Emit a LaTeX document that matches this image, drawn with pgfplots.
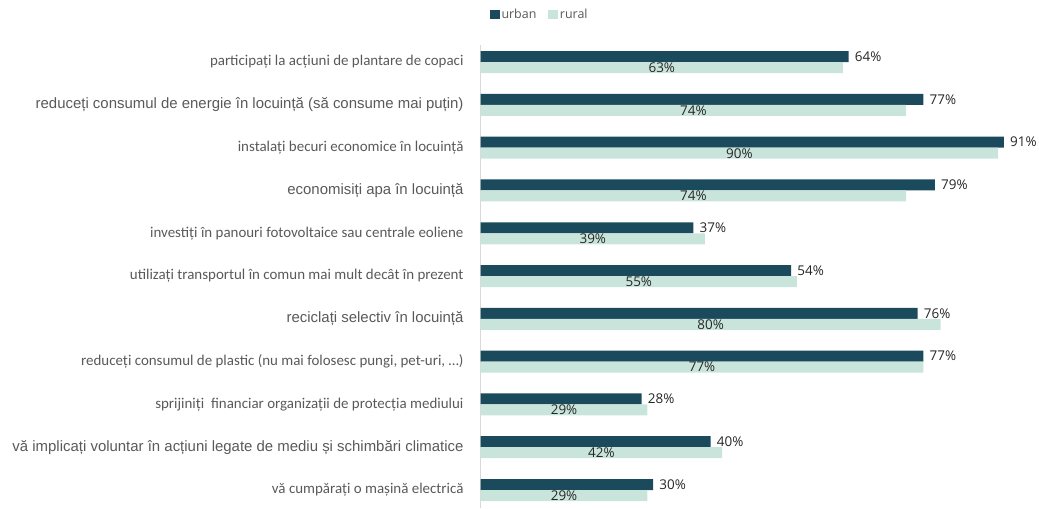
\documentclass[border=0pt]{standalone}
\usepackage{fontspec}
\setmainfont{Carlito}
\newfontfamily\arialf{Liberation Sans}
\newfontfamily\valf{Open Sans}
\usepackage{pgfplots}
\pgfplotsset{compat=1.18}
\definecolor{urbanc}{HTML}{1B4A5D}
\definecolor{ruralc}{HTML}{C9E5DB}
\definecolor{labc}{HTML}{595959}
\definecolor{axc}{HTML}{D9D9D9}
\begin{document}
\begin{tikzpicture}
\begin{axis}[
  at={(480.7bp,1bp)}, anchor=south west,
  scale only axis, width=552bp, height=463bp,
  xbar, bar width=11bp,
  xmin=0, xmax=96, ymin=-0.42, ymax=10.4,
  axis x line=none, axis y line*=left,
  y axis line style={draw=axc, line width=0.8bp, -},
  major tick length=0pt,
  ytick={0,...,10},
  yticklabel style={anchor=east, inner sep=0pt, xshift=-17bp, text=labc, font=\fontsize{15}{17}\selectfont},
  yticklabels={
    {vă cumpărați o mașină electrică},
    {\arialf vă implicați voluntar în acțiuni legate de mediu și schimbări climatice},
    {sprijiniți\ \ financiar organizații de protecția mediului},
    {reduceți consumul de plastic (nu mai folosesc pungi, pet-uri, …)},
    {\arialf reciclați selectiv în locuință},
    {utilizați transportul în comun mai mult decât în prezent},
    {investiți în panouri fotovoltaice sau centrale eoliene},
    {\arialf economisiți apa în locuință},
    {instalați becuri economice în locuință},
    {\arialf reduceți consumul de energie în locuință (să consume mai puțin)},
    {participați la acțiuni de plantare de copaci}
  },
  legend columns=2,
  legend style={at={(0.0165,1.066)}, anchor=west, draw=none, fill=none, inner sep=0pt,
    font=\valf\fontsize{12.5}{14}\selectfont\color{labc},
    nodes={inner xsep=2bp},
    /tikz/every even column/.append style={column sep=10bp}},
  legend image code/.code={\fill[#1] (0bp,-4.5bp) rectangle (9.5bp,4.5bp);},
  clip=false,
]
\addplot[fill=urbanc, draw=none, bar shift=5.5bp,
  nodes near coords={\pgfmathprintnumber[fixed,precision=0,assume math mode=true]{\pgfplotspointmeta}\%},
  nodes near coords style={anchor=west, inner sep=0pt, xshift=6bp, font=\valf\fontsize{13.5}{15}\selectfont, text=black!85}]
coordinates {
(30,0) (40,1) (28,2) (77,3) (76,4) (54,5) (37,6) (79,7) (91,8) (77,9) (64,10)
};
\addlegendentry{urban}
\addplot[fill=ruralc, draw=none, bar shift=-5.5bp,
  visualization depends on={rawx \as \rawx},
  nodes near coords={\pgfmathprintnumber[fixed,precision=0,assume math mode=true]{\pgfplotspointmeta}\%},
  nodes near coords style={anchor=center, inner sep=0pt, xshift=-\rawx*2.875bp, font=\valf\fontsize{13.5}{15}\selectfont, text=black!85}]
coordinates {
(29,0) (42,1) (29,2) (77,3) (80,4) (55,5) (39,6) (74,7) (90,8) (74,9) (63,10)
};
\addlegendentry{rural}
\end{axis}
\pgfresetboundingbox
\useasboundingbox (0,0) rectangle (1039bp,509bp);
\end{tikzpicture}
\end{document}
